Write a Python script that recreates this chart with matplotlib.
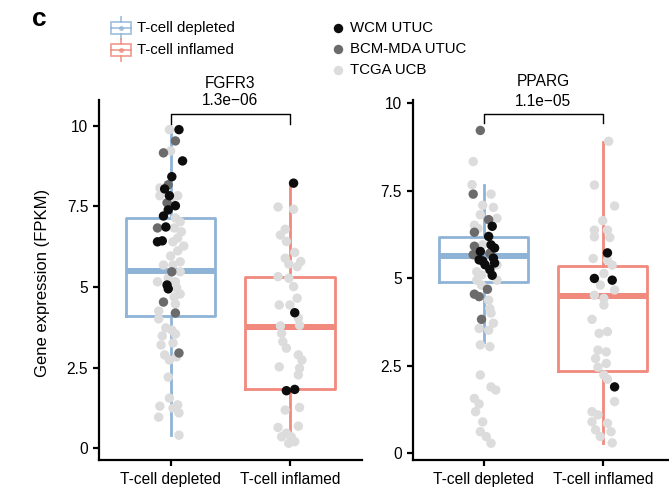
import matplotlib
matplotlib.use("Agg")
import matplotlib.pyplot as plt
from matplotlib.lines import Line2D
from matplotlib.patches import Rectangle

plt.rcParams['font.family'] = ['Liberation Sans', 'DejaVu Sans']

# ---------------- data ----------------
genes = ["FGFR3", "PPARG"]
pvalues = ["1.3e\u221206", "1.1e\u221205"]
groups = ["T-cell depleted", "T-cell inflamed"]
sources = ["TCGA UCB", "BCM-MDA UTUC", "WCM UTUC"]
y_ticks = [0, 2.5, 5, 7.5, 10]
y_ticklabels = ["0", "2.5", "5", "7.5", "10"]

# box statistics: (whislo, q1, med, q3, whishi)
fgfr3_depleted_box = (0.40, 4.10, 5.48, 7.13, 9.92)
fgfr3_inflamed_box = (0.33, 1.83, 3.75, 5.32, 8.22)
pparg_depleted_box = (3.18, 4.88, 5.62, 6.18, 7.65)
pparg_inflamed_box = (0.29, 2.33, 4.50, 5.34, 8.89)

# FGFR3 / T-cell depleted
fgfr3_dep_tcga_val = [9.88, 9.22, 8.07, 7.83, 7.83, 7.61, 7.14, 7.02, 6.83, 6.71, 6.52, 6.40, 6.27, 6.12,
                      5.96, 5.68, 5.68, 5.78, 5.47, 5.28, 5.16, 5.16, 4.97, 4.78, 4.69, 4.25, 4.47, 4.01,
                      3.73, 3.66, 3.54, 3.48, 3.20, 3.26, 2.89, 2.73, 2.83, 2.20, 1.55, 1.34, 1.30, 1.24,
                      1.09, 0.96, 0.40]
fgfr3_dep_tcga_jit = [-0.01, 0.00, -0.09, -0.09, 0.06, 0.01, 0.04, 0.08, 0.03, 0.09, 0.06, 0.02, 0.11, 0.06,
                      0.00, -0.06, 0.02, 0.08, 0.08, -0.02, 0.04, -0.11, 0.05, 0.08, 0.03, -0.10, 0.04, -0.10,
                      -0.04, 0.01, 0.04, -0.07, -0.08, 0.02, -0.05, -0.01, 0.05, -0.02, -0.01, 0.06, -0.09, 0.02,
                      0.07, -0.10, 0.07]
fgfr3_dep_bcm_val = [9.53, 9.16, 8.17, 7.61, 6.83, 5.47, 4.53, 4.19, 2.95]
fgfr3_dep_bcm_jit = [0.04, -0.06, -0.02, -0.03, -0.11, 0.01, -0.06, 0.04, 0.07]
fgfr3_dep_wcm_val = [9.88, 8.91, 8.42, 8.04, 7.83, 7.52, 7.39, 7.20, 6.86, 6.43, 6.40, 5.06, 4.94]
fgfr3_dep_wcm_jit = [0.07, 0.10, 0.01, -0.05, -0.01, 0.04, -0.02, -0.06, -0.04, -0.07, -0.11, -0.03, -0.02]

# FGFR3 / T-cell inflamed
fgfr3_inf_tcga_val = [7.48, 7.41, 6.79, 6.61, 6.41, 6.07, 5.89, 5.79, 5.71, 5.63, 5.32, 5.27, 5.01, 4.65,
                      4.44, 4.44, 4.03, 3.79, 3.81, 3.56, 3.30, 3.10, 2.89, 2.73, 2.48, 2.52, 2.27, 1.18,
                      1.26, 0.64, 0.68, 0.46, 0.35, 0.35, 0.20, 0.15]
fgfr3_inf_tcga_jit = [-0.10, 0.03, -0.04, -0.08, -0.03, 0.04, -0.04, 0.09, -0.01, 0.06, -0.10, -0.01, 0.03, 0.06,
                      -0.09, 0.00, 0.07, -0.08, 0.08, -0.07, -0.06, -0.03, 0.07, 0.10, 0.08, -0.09, 0.07, -0.04,
                      0.08, -0.10, 0.07, -0.03, 0.01, -0.07, 0.04, -0.01]
fgfr3_inf_bcm_val = []
fgfr3_inf_bcm_jit = []
fgfr3_inf_wcm_val = [8.22, 4.20, 1.78, 1.82]
fgfr3_inf_wcm_jit = [0.03, 0.04, -0.03, 0.04]

# PPARG / T-cell depleted
pparg_dep_tcga_val = [8.33, 7.67, 7.40, 7.08, 7.02, 6.81, 6.71, 6.51, 6.42, 5.95, 5.38, 5.18, 5.09, 4.94,
                      4.94, 4.80, 4.37, 4.13, 4.00, 3.56, 3.51, 3.71, 3.09, 3.04, 2.23, 1.89, 1.80, 1.56,
                      1.40, 1.18, 0.89, 0.61, 0.47, 0.28]
pparg_dep_tcga_jit = [-0.09, -0.10, 0.06, -0.01, 0.08, -0.03, 0.11, -0.08, -0.05, -0.01, 0.11, -0.06, -0.02, -0.06,
                      0.11, -0.02, 0.04, 0.05, 0.06, -0.04, 0.04, 0.08, -0.03, 0.05, -0.03, 0.06, 0.10, -0.08,
                      -0.04, -0.07, -0.01, -0.03, 0.02, 0.06]
pparg_dep_bcm_val = [9.22, 7.40, 6.67, 6.31, 5.91, 5.67, 5.71, 4.54, 4.47, 4.68, 3.82]
pparg_dep_bcm_jit = [-0.03, -0.09, 0.04, -0.08, -0.08, -0.09, 0.05, -0.08, -0.04, 0.03, -0.02]
pparg_dep_wcm_val = [6.48, 6.19, 5.95, 5.86, 5.76, 5.52, 5.38, 5.43, 5.24, 5.08, 5.49, 5.57]
pparg_dep_wcm_jit = [0.07, 0.04, 0.06, 0.09, -0.03, -0.04, 0.01, 0.09, 0.05, 0.07, -0.01, 0.08]

# PPARG / T-cell inflamed
pparg_inf_tcga_val = [8.91, 7.66, 7.06, 6.64, 6.37, 6.37, 6.18, 6.16, 5.56, 5.51, 5.37, 5.13, 4.80, 4.66,
                      4.51, 4.42, 4.23, 3.82, 3.42, 3.47, 2.94, 2.89, 2.70, 2.56, 2.45, 2.23, 2.11, 1.47,
                      1.18, 1.09, 0.89, 0.85, 0.66, 0.61, 0.47, 0.29]
pparg_inf_tcga_jit = [0.05, -0.07, 0.10, 0.00, -0.07, 0.04, -0.07, 0.06, -0.08, 0.04, 0.08, 0.01, -0.02, 0.10,
                      -0.07, 0.01, 0.01, -0.09, -0.03, 0.04, -0.04, 0.03, -0.06, 0.03, -0.04, 0.01, 0.04, 0.10,
                      -0.09, -0.04, -0.09, 0.04, -0.06, 0.07, -0.02, 0.08]
pparg_inf_bcm_val = []
pparg_inf_bcm_jit = []
pparg_inf_wcm_val = [5.72, 4.99, 4.94, 1.89]
pparg_inf_wcm_jit = [0.04, -0.07, 0.08, 0.10]

# ---------------- style ----------------
box_colors = ["#8FB3D6", "#F1897C"]
src_colors = {"TCGA UCB": "#DCDCDC", "BCM-MDA UTUC": "#6B6B6B", "WCM UTUC": "#0D0D0D"}
FS_TICK = 11.2
FS_LEG = 10.8

W, H = 669, 490
fig = plt.figure(figsize=(W / 100, H / 100), dpi=100)


def fx(x):
    return x / W


def fy(y):
    return 1 - y / H


panels = [
    dict(pos=[fx(99), fy(460), fx(262.6), 360 / H], ylim=(-0.37, 10.8),
         boxes=[fgfr3_depleted_box, fgfr3_inflamed_box],
         pts=[[(fgfr3_dep_tcga_val, fgfr3_dep_tcga_jit), (fgfr3_dep_bcm_val, fgfr3_dep_bcm_jit),
               (fgfr3_dep_wcm_val, fgfr3_dep_wcm_jit)],
              [(fgfr3_inf_tcga_val, fgfr3_inf_tcga_jit), (fgfr3_inf_bcm_val, fgfr3_inf_bcm_jit),
               (fgfr3_inf_wcm_val, fgfr3_inf_wcm_jit)]],
         bracket=10.37, tip=10.05, plabel=10.8, title_y=1.047),
    dict(pos=[fx(412.6), fy(460), fx(261.4), 360 / H], ylim=(-0.2, 10.09),
         boxes=[pparg_depleted_box, pparg_inflamed_box],
         pts=[[(pparg_dep_tcga_val, pparg_dep_tcga_jit), (pparg_dep_bcm_val, pparg_dep_bcm_jit),
               (pparg_dep_wcm_val, pparg_dep_wcm_jit)],
              [(pparg_inf_tcga_val, pparg_inf_tcga_jit), (pparg_inf_bcm_val, pparg_inf_bcm_jit),
               (pparg_inf_wcm_val, pparg_inf_wcm_jit)]],
         bracket=9.69, tip=9.43, plabel=10.06, title_y=1.052),
]

for gi, p in enumerate(panels):
    ax = fig.add_axes(p["pos"])
    for bi, (st, col) in enumerate(zip(p["boxes"], box_colors)):
        lo, q1, med, q3, hi = st
        ax.bxp([dict(med=med, q1=q1, q3=q3, whislo=lo, whishi=hi, fliers=[])],
               positions=[bi + 1], widths=0.75, showcaps=False, showfliers=False,
               boxprops=dict(color=col, linewidth=2.0),
               whiskerprops=dict(color=col, linewidth=2.0),
               medianprops=dict(color=col, linewidth=4.3, solid_capstyle='butt'),
               manage_ticks=False, zorder=1)
        for si, src in enumerate(sources):
            vals, jit = p["pts"][bi][si]
            if len(vals) == 0:
                continue
            xs = [bi + 1 + j for j in jit]
            ax.scatter(xs, vals, s=46, color=src_colors[src], edgecolors='none', zorder=2 + si)
    ax.set_xlim(0.4, 2.6)
    ax.set_ylim(*p["ylim"])
    ax.set_xticks([1, 2])
    ax.set_xticklabels(groups, fontsize=FS_TICK)
    ax.set_yticks(y_ticks)
    ax.set_yticklabels(y_ticklabels, fontsize=FS_TICK)
    for s in ["top", "right"]:
        ax.spines[s].set_visible(False)
    for s in ["left", "bottom"]:
        ax.spines[s].set_linewidth(1.6)
        ax.spines[s].set_color("black")
    ax.tick_params(axis='both', length=4.3, width=1.6, colors='black', labelcolor='black')
    ax.tick_params(axis='y', pad=3.5)
    ax.tick_params(axis='x', pad=4)
    ax.patch.set_alpha(0)
    # comparison bracket and p-value
    ax.plot([1, 1, 2, 2], [p["tip"], p["bracket"], p["bracket"], p["tip"]], color='black',
            linewidth=1.0, clip_on=False, zorder=5)
    ax.text(1.5, p["plabel"], pvalues[gi], ha='center', va='center', fontsize=FS_TICK, clip_on=False)
    ax.text(0.5, p["title_y"], genes[gi], transform=ax.transAxes, ha='center', va='center', fontsize=FS_TICK)

# y-axis title
fig.text(fx(43), fy(283), "Gene expression (FPKM)", rotation=90, ha='center', va='center', fontsize=12)

# panel letter
fig.text(fx(39), fy(19), "c", fontsize=19, fontweight='bold', ha='center', va='center')

# box legend
for i, (g, col) in enumerate(zip(groups, box_colors)):
    cy = 28 + 22 * i
    fig.add_artist(Rectangle((fx(111), fy(cy + 6)), fx(20), 12 / H, transform=fig.transFigure,
                             fill=False, edgecolor=col, linewidth=1.3, alpha=0.8))
    fig.add_artist(Line2D([fx(111), fx(131)], [fy(cy), fy(cy)], transform=fig.transFigure,
                          color=col, linewidth=1.3, alpha=0.8))
    fig.add_artist(Line2D([fx(121), fx(121)], [fy(cy - 11), fy(cy - 6)], transform=fig.transFigure,
                          color=col, linewidth=1.3, alpha=0.8))
    fig.add_artist(Line2D([fx(121), fx(121)], [fy(cy + 6), fy(cy + 11)], transform=fig.transFigure,
                          color=col, linewidth=1.3, alpha=0.8))
    fig.add_artist(Line2D([fx(121)], [fy(cy)], transform=fig.transFigure, marker='o', markersize=3.5,
                          color=col, markeredgewidth=0, alpha=0.8))
    fig.text(fx(137), fy(cy), g, ha='left', va='center', fontsize=FS_LEG)

# source legend
for i, src in enumerate(["WCM UTUC", "BCM-MDA UTUC", "TCGA UCB"]):
    cy = 28 + 21 * i
    fig.add_artist(Line2D([fx(338)], [fy(cy)], transform=fig.transFigure, marker='o', markersize=6.8,
                          color=src_colors[src], markeredgewidth=0))
    fig.text(fx(350), fy(cy), src, ha='left', va='center', fontsize=FS_LEG)

fig.savefig("out.png", dpi=100)
